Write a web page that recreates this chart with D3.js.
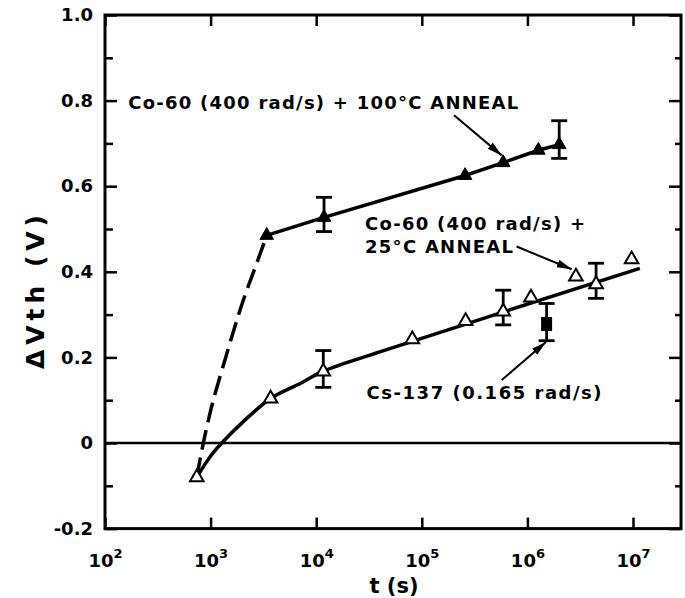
<!DOCTYPE html>
<html>
<head>
<meta charset="utf-8">
<script src="https://cdn.jsdelivr.net/npm/d3@7"></script>
<style>
  html, body { margin: 0; padding: 0; background: #fff; }
  svg { display: block; }
  text { font-family: "DejaVu Sans", "Liberation Sans", sans-serif; font-weight: bold; fill: #000; }
</style>
</head>
<body>
<svg id="chart" width="685" height="598"></svg>
<script>
// ---------- data ----------
const xTickValues = [1e2, 1e3, 1e4, 1e5, 1e6, 1e7];
const xTickExponents = ["2", "3", "4", "5", "6", "7"];
const yTickValues = [-0.2, 0, 0.2, 0.4, 0.6, 0.8, 1.0];
const yTickLabels = ["-0.2", "0", "0.2", "0.4", "0.6", "0.8", "1.0"];
const yMinorValues = [-0.1, 0.1, 0.3, 0.5, 0.7, 0.9];

// Co-60 (400 rad/s) + 100°C anneal (filled triangles)
const hotT = [3400, 11860, 2.57e5, 5.9e5, 1.27e6, 2.0e6];
const hotV = [0.485, 0.527, 0.625, 0.655, 0.684, 0.697];
const hotErrT = [11860, 2.0e6];
const hotErrLo = [0.494, 0.665];
const hotErrHi = [0.574, 0.753];
// dashed curve connecting first open triangle to first filled triangle
const dashT = [740, 853, 986, 1368, 2042, 2735, 3400];
const dashV = [-0.08, 0.0, 0.069, 0.194, 0.334, 0.420, 0.485];

// Co-60 (400 rad/s) + 25°C anneal (open triangles)
const roomT = [740, 3700, 11670, 81300, 2.6e5, 5.9e5, 1.08e6, 2.88e6, 4.47e6, 9.7e6];
const roomV = [-0.08, 0.104, 0.167, 0.242, 0.285, 0.307, 0.340, 0.389, 0.371, 0.429];
const roomErrT = [11670, 5.9e5, 4.47e6];
const roomErrLo = [0.130, 0.276, 0.338];
const roomErrHi = [0.216, 0.357, 0.420];
// solid fit through open triangles
const fitT = [740, 990, 1275, 2040, 3700, 7030, 11700, 40000, 1.16e7];
const fitV = [-0.08, -0.032, 0.0, 0.05, 0.104, 0.139, 0.168, 0.213, 0.408];

// Cs-137 (0.165 rad/s) (filled square)
const csT = [1.52e6];
const csV = [0.278];
const csErrLo = [0.239];
const csErrHi = [0.326];

// ---------- layout ----------
const svg = d3.select("#chart");
svg.append("rect").attr("width", 685).attr("height", 598).attr("fill", "#fff");

const x = d3.scaleLog().domain([1e2, Math.pow(10, 7.4545)]).range([105, 681]);
const y = d3.scaleLinear().domain([-0.2, 1.0]).range([528.6, 15]);

const zip = (a, b) => a.map((d, i) => [d, b[i]]);

// ---------- axes ----------
const axL = svg.append("g").attr("transform", `translate(${x.range()[0]},0)`)
  .call(d3.axisLeft(y).tickValues(yTickValues).tickSize(-12).tickPadding(12)
    .tickFormat((d, i) => yTickLabels[i]));
axL.selectAll(".tick text").attr("font-size", 18).attr("font-family", "DejaVu Sans").attr("font-weight", "bold");
const axLm = svg.append("g").attr("transform", `translate(${x.range()[0]},0)`)
  .call(d3.axisLeft(y).tickValues(yMinorValues).tickSize(-8).tickFormat(""));
const axR = svg.append("g").attr("transform", `translate(${x.range()[1]},0)`)
  .call(d3.axisRight(y).tickValues(yTickValues).tickSize(-12).tickFormat(""));
const axRm = svg.append("g").attr("transform", `translate(${x.range()[1]},0)`)
  .call(d3.axisRight(y).tickValues(yMinorValues).tickSize(-6).tickFormat(""));
const axB = svg.append("g").attr("transform", `translate(0,${y.range()[0]})`)
  .call(d3.axisBottom(x).tickValues(xTickValues).tickSize(-11).tickFormat(""));
const axT = svg.append("g").attr("transform", `translate(0,${y.range()[1]})`)
  .call(d3.axisTop(x).tickValues(xTickValues).tickSize(-11).tickFormat(""));

[axL, axLm, axR, axRm, axB, axT].forEach(g => {
  g.select(".domain").remove();
  g.selectAll(".tick line").attr("stroke", "#000").attr("stroke-width", 2.5);
});

// x tick labels: 10 with superscript exponent
axB.selectAll(".tick").each(function (d, i) {
  const t = d3.select(this).append("text")
    .attr("x", 0).attr("y", 567 - y.range()[0])
    .attr("text-anchor", "middle")
    .attr("font-size", 18);
  t.append("tspan").text("10");
  t.append("tspan").attr("font-size", 13).attr("dy", -9).text(xTickExponents[i]);
});

// frame
svg.append("rect")
  .attr("x", x.range()[0]).attr("y", y.range()[1])
  .attr("width", x.range()[1] - x.range()[0])
  .attr("height", y.range()[0] - y.range()[1])
  .attr("fill", "none").attr("stroke", "#000").attr("stroke-width", 3);

// zero line
svg.append("line")
  .attr("x1", x.range()[0]).attr("x2", x.range()[1])
  .attr("y1", y(0)).attr("y2", y(0))
  .attr("stroke", "#000").attr("stroke-width", 2.5);

// axis titles
svg.append("text")
  .attr("transform", "translate(44,292) rotate(-90)")
  .attr("text-anchor", "middle")
  .attr("font-size", 25)
  .attr("textLength", 154).attr("lengthAdjust", "spacing")
  .text("\u0394Vth (V)");
svg.append("text")
  .attr("x", 394).attr("y", 593)
  .attr("text-anchor", "middle")
  .attr("font-size", 21)
  .text("t (s)");

// ---------- curves ----------
const smooth = d3.line().x(d => x(d[0])).y(d => y(d[1])).curve(d3.curveMonotoneX);
svg.append("path").datum(zip(dashT, dashV)).attr("d", smooth)
  .attr("fill", "none").attr("stroke", "#000").attr("stroke-width", 3.5)
  .attr("stroke-dasharray", "20,8");
svg.append("path").datum(zip(fitT, fitV)).attr("d", d3.line().x(d => x(d[0])).y(d => y(d[1])).curve(d3.curveCatmullRom.alpha(0.5)))
  .attr("fill", "none").attr("stroke", "#000").attr("stroke-width", 3.5);
svg.append("path").datum(zip(hotT, hotV)).attr("d", d3.line().x(d => x(d[0])).y(d => y(d[1])))
  .attr("fill", "none").attr("stroke", "#000").attr("stroke-width", 3.5);

// ---------- error bars ----------
function errBars(ts, lo, hi) {
  const g = svg.append("g").attr("stroke", "#000").attr("stroke-width", 2.8);
  ts.forEach((t, i) => {
    const cx = x(t);
    g.append("line").attr("x1", cx).attr("x2", cx).attr("y1", y(lo[i])).attr("y2", y(hi[i]));
    g.append("line").attr("x1", cx - 8).attr("x2", cx + 8).attr("y1", y(lo[i])).attr("y2", y(lo[i]));
    g.append("line").attr("x1", cx - 8).attr("x2", cx + 8).attr("y1", y(hi[i])).attr("y2", y(hi[i]));
  });
}
errBars(hotErrT, hotErrLo, hotErrHi);
errBars(roomErrT, roomErrLo, roomErrHi);
errBars(csT, csErrLo, csErrHi);

// ---------- markers ----------
svg.append("g").selectAll("path").data(zip(roomT, roomV)).join("path")
  .attr("transform", d => `translate(${x(d[0])},${y(d[1])})`)
  .attr("d", d3.symbol().type(d3.symbolTriangle).size(80)())
  .attr("fill", "#fff").attr("stroke", "#000").attr("stroke-width", 2);
svg.append("g").selectAll("path").data(zip(hotT, hotV)).join("path")
  .attr("transform", d => `translate(${x(d[0])},${y(d[1])})`)
  .attr("d", d3.symbol().type(d3.symbolTriangle).size(80)())
  .attr("fill", "#000").attr("stroke", "#000").attr("stroke-width", 1);
svg.append("g").selectAll("rect").data(zip(csT, csV)).join("rect")
  .attr("x", d => x(d[0]) - 5.5).attr("y", d => y(d[1]) - 7)
  .attr("width", 11).attr("height", 14).attr("fill", "#000");

// ---------- annotations ----------
const defs = svg.append("defs");
defs.append("marker").attr("id", "arrow")
  .attr("markerUnits", "userSpaceOnUse")
  .attr("markerWidth", 16).attr("markerHeight", 10)
  .attr("refX", 15).attr("refY", 4).attr("orient", "auto")
  .append("path").attr("d", "M0,0 L15,4 L0,8 Z").attr("fill", "#000");

function note(lines, tx, vy, lengths, lineGap) {
  lines.forEach((s, i) => {
    svg.append("text").attr("x", x(tx)).attr("y", y(vy) + i * lineGap)
      .attr("font-size", 18)
      .attr("textLength", lengths[i]).attr("lengthAdjust", "spacing")
      .text(s);
  });
}
function arrow(t1, v1, t2, v2) {
  svg.append("line")
    .attr("x1", x(t1)).attr("y1", y(v1)).attr("x2", x(t2)).attr("y2", y(v2))
    .attr("stroke", "#000").attr("stroke-width", 2)
    .attr("marker-end", "url(#arrow)");
}
note(["Co-60 (400 rad/s) + 100\u00B0C ANNEAL"], 166, 0.78, [390], 0);
arrow(2.02e5, 0.766, 5.71e5, 0.672);
note(["Co-60 (400 rad/s) +", "25\u00B0C ANNEAL"], 2.9e4, 0.498, [220, 148], 23.5);
arrow(7.9e5, 0.459, 2.63e6, 0.406);
note(["Cs-137 (0.165 rad/s)"], 3.0e4, 0.103, [235], 0);
arrow(5.71e5, 0.147, 1.5e6, 0.236);
</script>
</body>
</html>
